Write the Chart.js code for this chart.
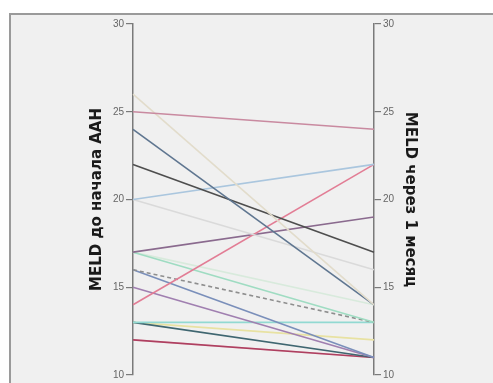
<!DOCTYPE html>
<html>
<head>
<meta charset="utf-8">
<script src="https://cdn.jsdelivr.net/npm/chart.js@4"></script>
<style>
  html, body { margin: 0; padding: 0; background: #fff; overflow: hidden; }
  #frame {
    position: absolute; left: 9px; top: 13px; width: 500px; height: 400px;
    background: #f0f0f0; border-left: 2px solid #9a9a9a; border-top: 2px solid #9a9a9a;
  }
  #wrap { position: absolute; left: 0; top: 0; width: 493px; height: 383px; }
</style>
</head>
<body>
<div id="frame"></div>
<div id="wrap"><canvas id="chart"></canvas></div>
<script>
// parallel coordinates: MELD before treatment vs. after 1 month
const axisNames = ["MELD до начала ААН", "MELD через 1 месяц"];
const meldBefore = [25, 26, 24, 22, 20, 20, 14, 17, 17, 16, 16, 15, 13, 13, 13, 12, 12, 17];
const meldAfter  = [24, 14, 14, 17, 22, 16, 22, 19, 13, 13, 11, 11, 13, 11, 12, 11, 11, 14];
const lineColors = [
  "#c98aa0", "#e2dccb", "#5f7690", "#4e4e4e", "#aac6de", "#dadada",
  "#e27d95", "#8a6a8e", "#9fdcc2", "#8e8e8e", "#7a8fba", "#a07fb0",
  "#92d9d2", "#3f6670", "#e8e2a2", "#ad4060", "#f2c8d2", "#d8eadc"
];
const dashed = [9];

const datasets = meldBefore.map((v, i) => ({
  data: [v, meldAfter[i]],
  borderColor: lineColors[i],
  borderWidth: 1.6,
  borderDash: dashed.includes(i) ? [4, 3] : [],
  pointRadius: 0,
  fill: false,
  tension: 0
}));

const axisStyle = {
  min: 10, max: 30,
  ticks: { stepSize: 5, color: "#666", padding: 2, font: { family: "Liberation Sans", size: 10 } },
  grid: { drawOnChartArea: false, drawTicks: true, tickLength: 7, color: "#7a7a7a", lineWidth: 1.2 },
  border: { display: true, color: "#7a7a7a", width: 1.5 }
};

new Chart(document.getElementById("chart").getContext("2d"), {
  type: "line",
  data: { labels: axisNames, datasets: datasets },
  options: {
    responsive: true,
    maintainAspectRatio: false,
    animation: false,
    layout: { padding: { top: 24, bottom: 7, left: 0, right: 0 } },
    plugins: { legend: { display: false }, tooltip: { enabled: false } },
    scales: {
      x: { display: false, offset: false },
      y: Object.assign({}, axisStyle, {
        position: "left",
        title: { display: true, text: axisNames[0], color: "#1a1a1a",
                 padding: { top: 88, bottom: 0 },
                 font: { family: "DejaVu Sans", weight: "bold", size: 15 } },
        afterFit: s => { s.width = 133; }
      }),
      y2: Object.assign({}, axisStyle, {
        position: "right",
        title: { display: true, text: axisNames[1], color: "#1a1a1a",
                 padding: { top: 74, bottom: 0 },
                 font: { family: "DejaVu Sans", weight: "bold", size: 15 } },
        afterFit: s => { s.width = 119; }
      })
    }
  }
});
</script>
</body>
</html>
